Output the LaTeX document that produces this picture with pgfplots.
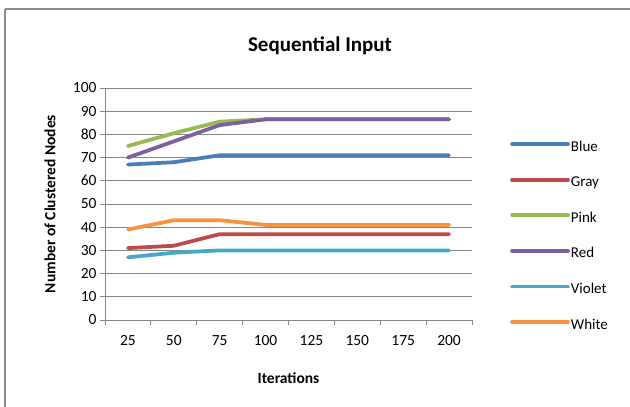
\documentclass[border=0pt]{standalone}
\usepackage{pgfplots}
\pgfplotsset{compat=1.18}
\usepackage{fontspec}
\setmainfont{Carlito}

\definecolor{xlBlue}{RGB}{74,126,187}
\definecolor{xlGray}{RGB}{190,75,72}
\definecolor{xlPink}{RGB}{152,185,84}
\definecolor{xlRed}{RGB}{125,96,160}
\definecolor{xlViolet}{RGB}{70,170,197}
\definecolor{xlWhite}{RGB}{246,146,64}
\definecolor{gridgray}{RGB}{134,134,134}
\definecolor{framegray}{RGB}{140,140,140}

\begin{document}
\begin{tikzpicture}[x=1pt,y=1pt]
\useasboundingbox (0,0) rectangle (630,407);
\fill[white] (0,0) rectangle (630,407);
% chart frame
\draw[framegray,line width=2pt] (5,398) -- (645,398);
\draw[framegray,line width=2pt] (5,398) -- (5,-10);
\begin{axis}[
  at={(105pt,87pt)}, anchor=south west,
  scale only axis, width=367pt, height=232pt,
  xmin=-0.5, xmax=7.5, ymin=0, ymax=100,
  axis x line*=bottom, axis y line*=left,
  axis line style={gridgray,line width=0.75pt},
  xtick={-0.5,0.5,...,7.5},
  xticklabels={25,50,75,100,125,150,175,200,{}},
  xticklabel style={anchor=center, xshift=22.94pt, yshift=-16pt},
  ytick={0,10,...,100},
  yticklabel style={anchor=east},
  tick align=outside, major tick length=5pt,
  tick style={gridgray,line width=0.75pt},
  ymajorgrids, grid style={gridgray,line width=0.75pt},
  /pgf/number format/assume math mode=true,
  tick label style={font=\fontsize{15.5}{17}\selectfont},
  title={\textbf{Sequential Input}},
  title style={at={(axis description cs:0.5858,1.1336)}, anchor=base,
    font=\fontsize{21}{23}\selectfont},
  xlabel={\textbf{Iterations}},
  xlabel style={at={(axis description cs:0.5,-0.25)}, anchor=center,
    font=\fontsize{15.5}{17}\selectfont},
  ylabel={\textbf{Number of Clustered Nodes}},
  ylabel style={at={(axis description cs:-0.1499,0.5)}, anchor=center, rotate=0,
    font=\fontsize{15.5}{17}\selectfont},
  legend style={at={(axis description cs:1.1035,0.776)}, anchor=north west,
    draw=none, fill=none, inner sep=0pt, row sep=20.6pt,
    font=\fontsize{15}{17}\selectfont,
    nodes={inner sep=1pt, text height=10pt, text depth=3pt, anchor=west}},
  legend cell align=left,
  legend image code/.code={\draw[#1] (0pt,3.5pt) -- (56pt,3.5pt);},
  every axis plot/.append style={line width=3.75pt, line cap=round, line join=round},
]
\addplot[xlBlue] coordinates {(0,67) (1,68) (2,71) (3,71) (4,71) (5,71) (6,71) (7,71)};
\addlegendentry{Blue}
\addplot[xlGray] coordinates {(0,31) (1,32) (2,37) (3,37) (4,37) (5,37) (6,37) (7,37)};
\addlegendentry{Gray}
\addplot[xlPink] coordinates {(0,75) (1,80.5) (2,85.5) (3,86.5) (4,86.5) (5,86.5) (6,86.5) (7,86.5)};
\addlegendentry{Pink}
\addplot[xlRed] coordinates {(0,70) (1,77) (2,84) (3,86.5) (4,86.5) (5,86.5) (6,86.5) (7,86.5)};
\addlegendentry{Red}
\addplot[xlViolet] coordinates {(0,27) (1,29) (2,30) (3,30) (4,30) (5,30) (6,30) (7,30)};
\addlegendentry{Violet}
\addplot[xlWhite] coordinates {(0,39) (1,43) (2,43) (3,41) (4,41) (5,41) (6,41) (7,41)};
\addlegendentry{White}
\end{axis}
\end{tikzpicture}
\end{document}
